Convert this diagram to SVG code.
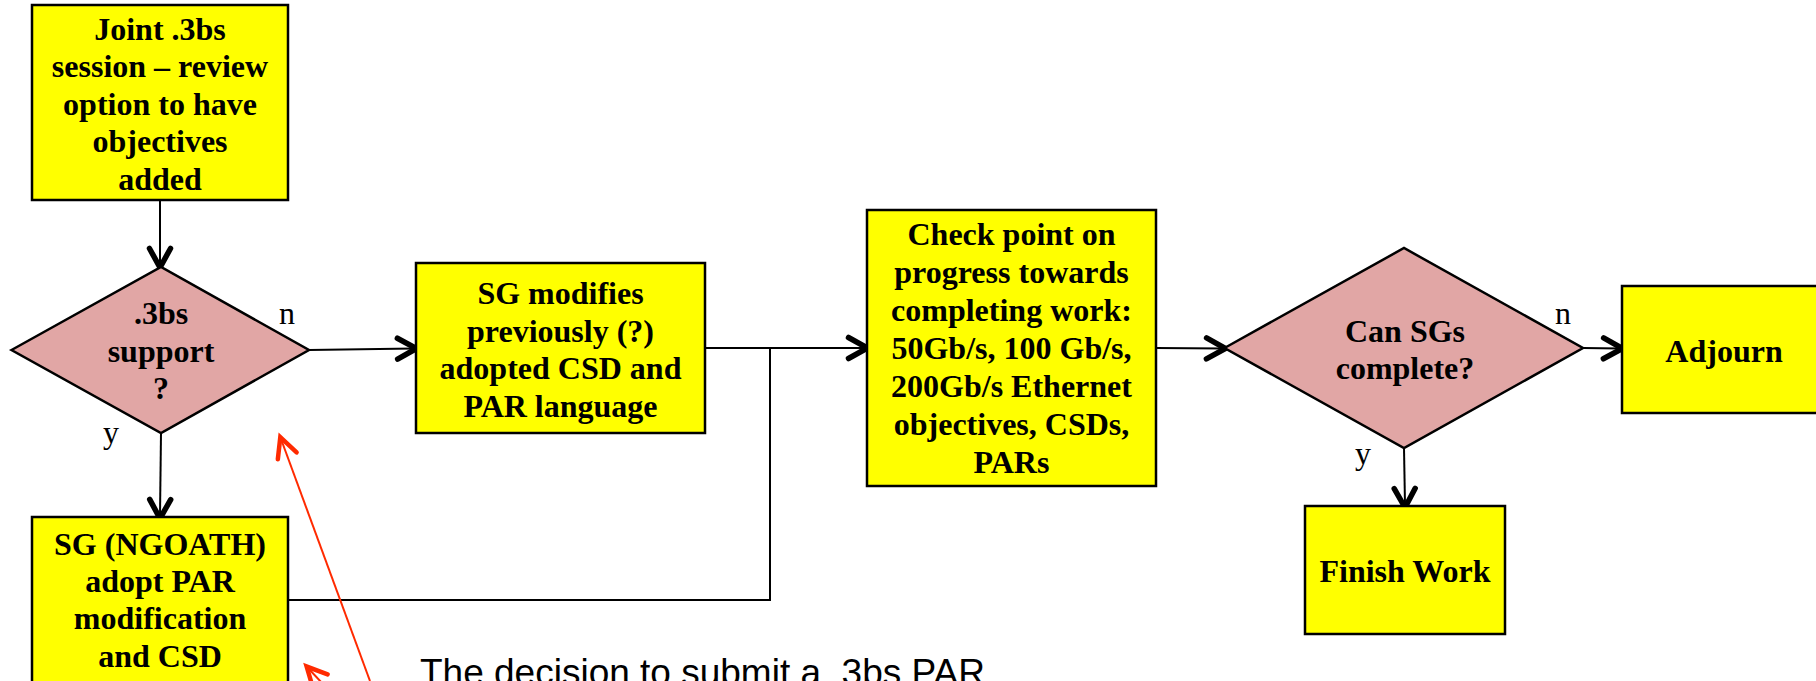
<svg xmlns="http://www.w3.org/2000/svg" width="1816" height="681" viewBox="0 0 1816 681">
<style>
.box{fill:#FFFF00;stroke:#000;stroke-width:2.5}
.dia{fill:#E1A6A5;stroke:#000;stroke-width:2.5}
.t{font-family:"Liberation Serif",serif;font-weight:bold;font-size:32px;text-anchor:middle;fill:#000}
.lbl{font-family:"Liberation Serif",serif;font-size:32px;text-anchor:middle;fill:#000}
.c{fill:none;stroke:#000;stroke-width:2}
.r{fill:none;stroke:#FF2A00;stroke-width:2}
.note{font-family:"Liberation Sans",Arial,sans-serif;font-size:37px;fill:#000}
</style>
<defs>
<marker id="ah" markerUnits="userSpaceOnUse" markerWidth="40" markerHeight="40" viewBox="-30 -20 40 40" refX="-2.5" refY="0" orient="auto" overflow="visible">
<path d="M-19,-10.5 L0,0 L-19,10.5" fill="none" stroke="#000" stroke-width="5.5" stroke-linecap="round" stroke-linejoin="miter"/>
</marker>
<marker id="rah" markerUnits="userSpaceOnUse" markerWidth="40" markerHeight="40" viewBox="-30 -20 40 40" refX="-2" refY="0" orient="auto" overflow="visible">
<path d="M-20,-10 L0,0 L-20,10" fill="none" stroke="#FF2A00" stroke-width="4.5" stroke-linecap="round"/>
</marker>
</defs>
<rect width="1816" height="681" fill="#fff"/>
<g id="connectors">
<path class="c" d="M160,200 L160,265" marker-end="url(#ah)"/>
<path class="c" d="M309,350 L414,348.5" marker-end="url(#ah)"/>
<path class="c" d="M161,433 L160,516" marker-end="url(#ah)"/>
<path class="c" d="M705,348 L865,348" marker-end="url(#ah)"/>
<path class="c" d="M288,600 L770,600 L770,348"/>
<path class="c" d="M1156,348 L1223,348.5" marker-end="url(#ah)"/>
<path class="c" d="M1583,348 L1620,348.5" marker-end="url(#ah)"/>
<path class="c" d="M1404,448 L1405,505" marker-end="url(#ah)"/>
<path class="r" d="M370,681 L281,439" marker-end="url(#rah)"/>
<path class="r" d="M322,683 L308,668" marker-end="url(#rah)"/>
</g>
<g id="n-joint">
<rect class="box" x="32" y="5" width="256" height="195"/>
<text class="t" x="160" y="39.5">Joint .3bs</text>
<text class="t" x="160" y="77">session – review</text>
<text class="t" x="160" y="114.5">option to have</text>
<text class="t" x="160" y="152">objectives</text>
<text class="t" x="160" y="189.5">added</text>
</g>
<g id="n-support">
<polygon class="dia" points="11.5,350 161,267 309,350 161,433"/>
<text class="t" x="161" y="323.5">.3bs</text>
<text class="t" x="161" y="362">support</text>
<text class="t" x="161" y="398.5">?</text>
<text class="lbl" x="287" y="324">n</text>
<text class="lbl" x="111" y="443">y</text>
</g>
<g id="n-modifies">
<rect class="box" x="416" y="263" width="289" height="170"/>
<text class="t" x="560.5" y="304">SG modifies</text>
<text class="t" x="560.5" y="341.5">previously (?)</text>
<text class="t" x="560.5" y="379">adopted CSD and</text>
<text class="t" x="560.5" y="416.5">PAR language</text>
</g>
<g id="n-ngoath">
<rect class="box" x="32" y="517" width="256" height="200"/>
<text class="t" x="160" y="555">SG (NGOATH)</text>
<text class="t" x="160" y="592">adopt PAR</text>
<text class="t" x="160" y="629">modification</text>
<text class="t" x="160" y="667">and CSD</text>
</g>
<g id="n-check">
<rect class="box" x="867" y="210" width="289" height="276"/>
<text class="t" x="1011.5" y="245">Check point on</text>
<text class="t" x="1011.5" y="283">progress towards</text>
<text class="t" x="1011.5" y="321">completing work:</text>
<text class="t" x="1011.5" y="359">50Gb/s, 100 Gb/s,</text>
<text class="t" x="1011.5" y="397">200Gb/s Ethernet</text>
<text class="t" x="1011.5" y="435">objectives, CSDs,</text>
<text class="t" x="1011.5" y="473">PARs</text>
</g>
<g id="n-complete">
<polygon class="dia" points="1224.5,348 1404,248 1583,348 1404,448"/>
<text class="t" x="1405" y="342">Can SGs</text>
<text class="t" x="1405" y="379">complete?</text>
<text class="lbl" x="1563" y="323.5">n</text>
<text class="lbl" x="1363" y="464">y</text>
</g>
<g id="n-adjourn">
<rect class="box" x="1622" y="286" width="204" height="127"/>
<text class="t" x="1724" y="361.5">Adjourn</text>
</g>
<g id="n-finish">
<rect class="box" x="1305" y="506" width="200" height="128"/>
<text class="t" x="1405" y="582">Finish Work</text>
</g>
<g id="note">
<text class="note" x="420" y="685">The decision to submit a .3bs PAR</text>
</g>
</svg>
